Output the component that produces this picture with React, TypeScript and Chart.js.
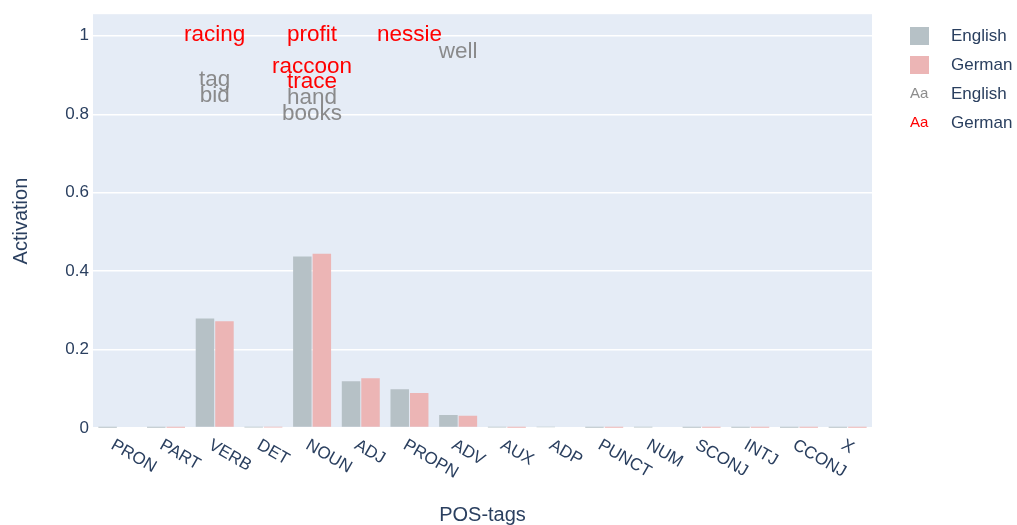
import React, { useEffect, useRef } from "react";
import { Chart, registerables } from "chart.js";
Chart.register(...registerables);

const categories = ["PRON", "PART", "VERB", "DET", "NOUN", "ADJ", "PROPN", "ADV", "AUX", "ADP", "PUNCT", "NUM", "SCONJ", "INTJ", "CCONJ", "X"];
const englishValues = [0.0005, 0.0005, 0.279, 0.001, 0.437, 0.119, 0.099, 0.033, 0.001, 0.002, 0.0005, 0.001, 0.0005, 0.0005, 0.0005, 0.0005];
const germanValues = [0.003, 0.0005, 0.272, 0.001, 0.444, 0.127, 0.089, 0.031, 0.0005, 0.003, 0.0005, 0.003, 0.0005, 0.0005, 0.0005, 0.0005];
const yTicks = [0, 0.2, 0.4, 0.6, 0.8, 1];

const englishWords = ["tag", "bid", "hand", "books", "well"];
const englishWordCats = ["VERB", "VERB", "NOUN", "NOUN", "ADV"];
const englishWordValues = [0.888, 0.848, 0.843, 0.802, 0.959];
const germanWords = ["racing", "profit", "raccoon", "trace", "nessie"];
const germanWordCats = ["VERB", "NOUN", "NOUN", "NOUN", "PROPN"];
const germanWordValues = [1.002, 1.002, 0.921, 0.883, 1.002];

const seriesNames = ["English", "German"];
const FONT = "'Liberation Sans', Arial, sans-serif";
const TEXT_COLOR = "#2a3f5f";
const EN_BAR = "#b6c1c6";
const DE_BAR = "#ecb5b5";
const EN_WORD = "rgba(128,128,128,0.9)";
const DE_WORD = "rgb(255,0,0)";

const customPlugin = {
  id: "custom",
  beforeDraw(chart: any) {
    const { ctx, chartArea } = chart;
    ctx.save();
    ctx.fillStyle = "#e5ecf6";
    ctx.fillRect(chartArea.left, chartArea.top, chartArea.right - chartArea.left, chartArea.bottom - chartArea.top);
    ctx.restore();
  },
  afterDatasetsDraw(chart: any) {
    const { ctx } = chart;
    const xs = chart.scales.x;
    const ys = chart.scales.y;
    ctx.save();
    ctx.font = `22.5px ${FONT}`;
    ctx.textAlign = "center";
    ctx.textBaseline = "middle";
    ctx.fillStyle = EN_WORD;
    englishWords.forEach((w, i) => {
      const x = xs.getPixelForValue(categories.indexOf(englishWordCats[i]));
      const y = ys.getPixelForValue(englishWordValues[i]);
      ctx.fillText(w, x, y);
    });
    ctx.fillStyle = DE_WORD;
    germanWords.forEach((w, i) => {
      const x = xs.getPixelForValue(categories.indexOf(germanWordCats[i]));
      const y = ys.getPixelForValue(germanWordValues[i]);
      ctx.fillText(w, x, y);
    });
    ctx.restore();
  },
  afterDraw(chart: any) {
    const { ctx, chartArea } = chart;
    const xs = chart.scales.x;
    ctx.save();
    ctx.font = `17px ${FONT}`;
    ctx.fillStyle = TEXT_COLOR;
    ctx.textAlign = "left";
    ctx.textBaseline = "middle";
    categories.forEach((c, i) => {
      const x = xs.getPixelForValue(i) - 5;
      const y = chartArea.bottom + 16;
      ctx.save();
      ctx.translate(x, y);
      ctx.rotate(Math.PI / 6);
      ctx.fillText(c, 0, 0);
      ctx.restore();
    });
    ctx.restore();

    // legend
    ctx.save();
    const lx = 910;
    const tx = 951;
    const rows = [36, 65, 94, 123];
    ctx.fillStyle = EN_BAR;
    ctx.fillRect(lx, rows[0] - 9, 19, 18);
    ctx.fillStyle = DE_BAR;
    ctx.fillRect(lx, rows[1] - 9, 19, 18);
    ctx.font = `15px ${FONT}`;
    ctx.textAlign = "left";
    ctx.textBaseline = "middle";
    ctx.fillStyle = EN_WORD;
    ctx.fillText("Aa", lx, rows[2]);
    ctx.fillStyle = DE_WORD;
    ctx.fillText("Aa", lx, rows[3]);
    ctx.font = `17px ${FONT}`;
    ctx.fillStyle = TEXT_COLOR;
    ctx.fillText(seriesNames[0], tx, rows[0]);
    ctx.fillText(seriesNames[1], tx, rows[1]);
    ctx.fillText(seriesNames[0], tx, rows[2]);
    ctx.fillText(seriesNames[1], tx, rows[3]);
    ctx.restore();
  },
};

export default function App() {
  const ref = useRef<HTMLCanvasElement | null>(null);
  useEffect(() => {
    document.body.style.margin = "0";
    const canvas = ref.current;
    if (!canvas) return;
    const chart = new Chart(canvas, {
      type: "bar",
      data: {
        labels: categories,
        datasets: [
          {
            label: seriesNames[0],
            data: englishValues,
            backgroundColor: EN_BAR,
            categoryPercentage: 0.8,
            barPercentage: 0.95,
          },
          {
            label: seriesNames[1],
            data: germanValues,
            backgroundColor: DE_BAR,
            categoryPercentage: 0.8,
            barPercentage: 0.95,
          },
        ],
      },
      options: {
        animation: false,
        responsive: false,
        maintainAspectRatio: false,
        layout: { padding: { left: 0, right: 145, top: 13, bottom: 0 } },
        plugins: {
          legend: { display: false },
          tooltip: { enabled: false },
        },
        scales: {
          x: {
            grid: { display: false, drawTicks: false },
            border: { display: false },
            ticks: { display: false },
            title: {
              display: true,
              text: "POS-tags",
              color: TEXT_COLOR,
              font: { family: FONT, size: 20 },
              padding: { top: 0, bottom: -2 },
            },
            afterFit: (s: any) => {
              s.height = 97;
            },
          },
          y: {
            min: 0,
            max: 1.055,
            afterBuildTicks: (s: any) => {
              s.ticks = yTicks.map((v) => ({ value: v }));
            },
            grid: {
              color: "#ffffff",
              lineWidth: (c: any) => (c.tick && c.tick.value === 0 ? 2.5 : 1.4),
              drawTicks: false,
            },
            border: { display: false },
            ticks: {
              color: TEXT_COLOR,
              font: { family: FONT, size: 17 },
              padding: 4,
              callback: (v: any) => String(v),
            },
            title: {
              display: true,
              text: "Activation",
              color: TEXT_COLOR,
              font: { family: FONT, size: 20 },
              padding: { top: 9, bottom: 0 },
            },
            afterFit: (s: any) => {
              s.width = 93;
            },
          },
        },
      },
      plugins: [customPlugin],
    });
    return () => chart.destroy();
  }, []);
  return (
    <div style={{ width: 1017, height: 525, position: "relative" }}>
      <canvas ref={ref} width={1017} height={525} style={{ display: "block" }} />
    </div>
  );
}
